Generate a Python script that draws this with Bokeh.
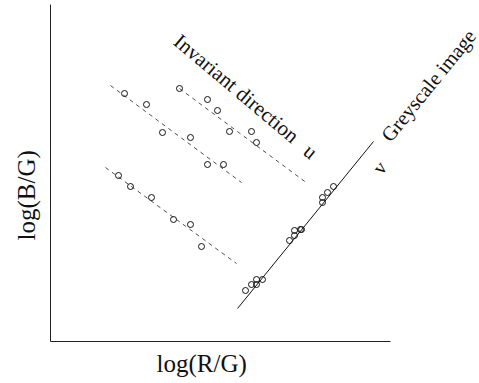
from bokeh.plotting import figure
from bokeh.models import Range1d, Label, FixedTicker, Title
from bokeh.embed import file_html
from bokeh.resources import INLINE

# Data (units: arbitrary log-chromaticity space)
# Dashed "invariant direction" lines: start/end points
line1_x = [60, 191]
line1_y = [256, 159]
line2_x = [129, 257]
line2_y = [253, 158]
line3_x = [55, 186]
line3_y = [174, 78]

# Points along each invariant line
pts1_x = [74, 96, 112, 140, 157, 173]
pts1_y = [248, 237, 209, 204, 177, 177]
pts2_x = [129, 157, 167, 179, 201, 206]
pts2_y = [253, 242, 231, 210, 210, 199]
pts3_x = [68, 80, 101, 123, 140, 151]
pts3_y = [166, 155, 144, 122, 117, 95]

# Greyscale image axis (solid line) and projected points
grey_line_x = [187, 323]
grey_line_y = [33, 200]
grey_pts_x = [195, 201, 206, 206, 212, 239, 244, 244, 250, 251, 272, 272, 277, 283]
grey_pts_y = [51, 57, 62, 57, 62, 101, 106, 111, 112, 112, 139, 144, 149, 155]

x_label = "log(R/G)"
y_label = "log(B/G)"

FONT = "Liberation Serif"

p = figure(width=479, height=383, output_backend="svg", toolbar_location=None,
           x_range=Range1d(0, 429), y_range=Range1d(0, 341),
           min_border_left=50, min_border_right=0, min_border_top=0, min_border_bottom=42)
p.outline_line_color = None
p.grid.visible = False
p.background_fill_color = "white"
p.border_fill_color = "white"

for ax in (p.xaxis[0], p.yaxis[0]):
    ax.ticker = FixedTicker(ticks=[])
    ax.major_tick_line_color = None
    ax.minor_tick_line_color = None
    ax.major_tick_out = 0
    ax.major_tick_in = 0
    ax.major_label_text_font_size = "0px"
    ax.major_label_standoff = 0
    ax.axis_line_color = "#222222"
    ax.axis_line_width = 1
p.xaxis[0].bounds = (0, 340)
p.yaxis[0].bounds = (0, 337)

# axis titles, placed under / beside the axis lines where the reference has them
p.add_layout(Title(text=x_label, align="left", offset=106, standoff=12,
                   text_font=FONT, text_font_size="25px", text_font_style="normal",
                   text_color="#111111"), "below")
p.add_layout(Title(text=y_label, align="left", offset=101, standoff=17,
                   vertical_align="top",
                   text_font=FONT, text_font_size="25px", text_font_style="normal",
                   text_color="#111111"), "left")

dash_kw = dict(line_color="#222222", line_width=0.8, line_dash="4 4")
p.line(line1_x, line1_y, **dash_kw)
p.line(line2_x, line2_y, **dash_kw)
p.line(line3_x, line3_y, **dash_kw)
p.line(grey_line_x, grey_line_y, line_color="#111111", line_width=1)

pt_kw = dict(marker="circle", size=6, fill_color=None, line_color="#111111", line_width=1)
p.scatter(pts1_x, pts1_y, **pt_kw)
p.scatter(pts2_x, pts2_y, **pt_kw)
p.scatter(pts3_x, pts3_y, **pt_kw)
p.scatter(grey_pts_x, grey_pts_y, **pt_kw)


def lab(x, y, text, size, angle=0):
    p.add_layout(Label(x=x, y=y, text=text, angle=angle, angle_units="deg",
                       text_font=FONT, text_font_size=size, text_color="#111111",
                       text_align="center", text_baseline="middle"))


lab(186, 253, "Invariant direction", "21px", -40)
lab(260, 190, "u", "21px", -40)
lab(378, 256, "Greyscale image", "20.5px", 51)
lab(329, 174, "v", "20px", 51)

open("out.html", "w").write(file_html(p, INLINE))
